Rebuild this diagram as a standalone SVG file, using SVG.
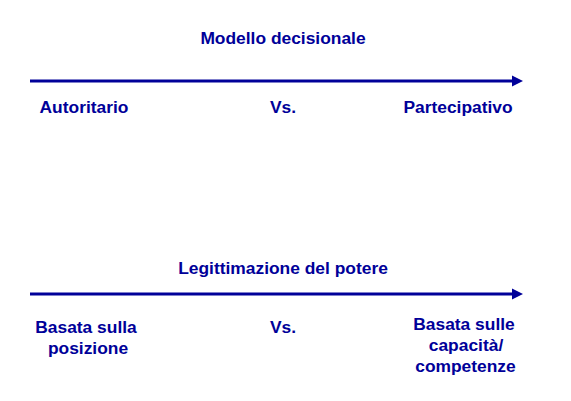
<svg xmlns="http://www.w3.org/2000/svg" width="571" height="401" viewBox="0 0 571 401">
<style>
text{font-family:"Liberation Sans",Arial,sans-serif;font-weight:bold;font-size:17.4px;fill:#000099;text-anchor:middle}
.ax{stroke:#000099;stroke-width:3;fill:none}
.hd{fill:#000099}
</style>
<rect width="571" height="401" fill="#ffffff"/>
<g id="connectors">
<line class="ax" x1="30" y1="81" x2="514" y2="81"/>
<polygon class="hd" points="512,75.5 523,81 512,86.5"/>
<line class="ax" x1="30" y1="294" x2="514" y2="294"/>
<polygon class="hd" points="512,288.5 523,294 512,299.5"/>
</g>
<g id="title1"><text x="283" y="44">Modello decisionale</text></g>
<g id="autoritario"><text x="84" y="113">Autoritario</text></g>
<g id="vs1"><text x="283" y="113">Vs.</text></g>
<g id="partecipativo"><text x="458" y="113">Partecipativo</text></g>
<g id="title2"><text x="283" y="274">Legittimazione del potere</text></g>
<g id="posizione"><text x="86" y="333">Basata sulla</text><text x="88" y="354">posizione</text></g>
<g id="vs2"><text x="283" y="333">Vs.</text></g>
<g id="competenze"><text x="464" y="330">Basata sulle</text><text x="466" y="351">capacità/</text><text x="465.5" y="372">competenze</text></g>
</svg>
